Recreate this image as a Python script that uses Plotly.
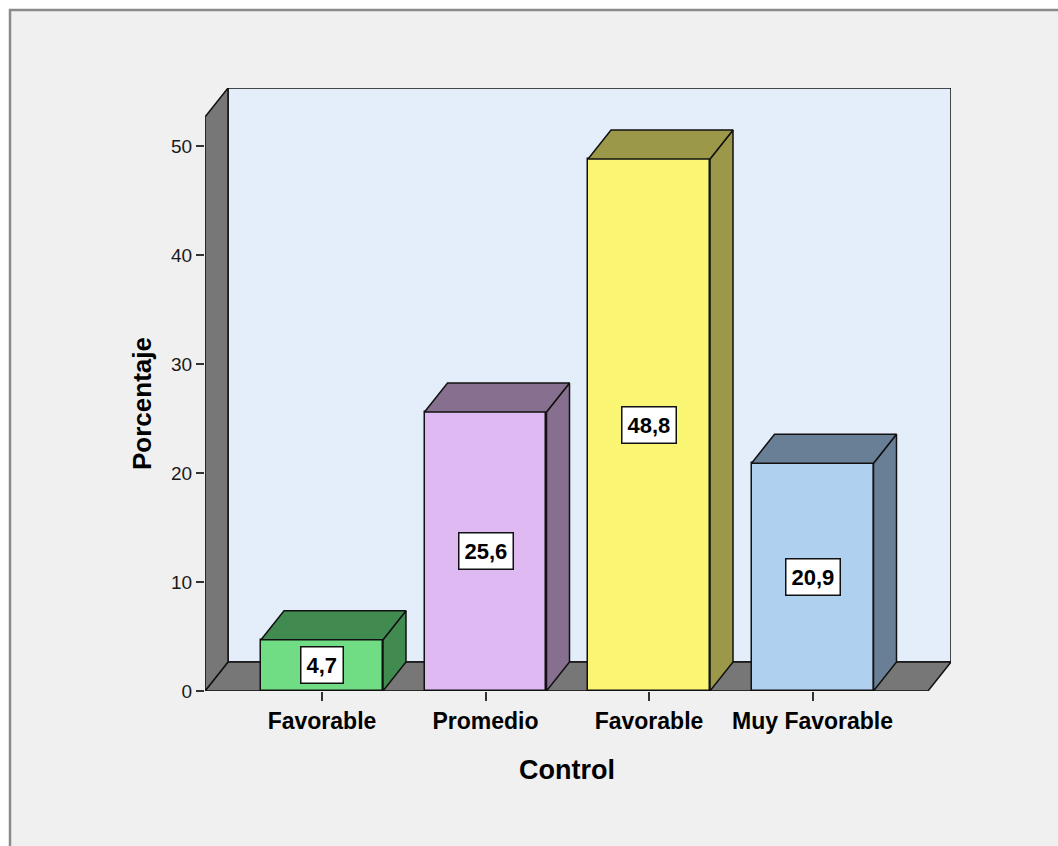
import plotly.graph_objects as go

# ---- data ----
categories = ["Favorable", "Promedio", "Favorable", "Muy Favorable"]
values = [4.7, 25.6, 48.8, 20.9]
value_labels = ["4,7", "25,6", "48,8", "20,9"]
y_ticks = [0, 10, 20, 30, 40, 50]
x_title = "Control"
y_title = "Porcentaje"

# ---- styles ----
front_colors = ["#70dc84", "#dfb9f1", "#faf673", "#afd0ee"]
shade_colors = ["#418b50", "#87708f", "#9b984a", "#687f95"]
WALL_BACK = "#e3eefa"
WALL_GRAY = "#777777"
BG = "#f0f0f0"

W, H = 1058, 846
ML, MR, MT, MB = 205, 107, 88, 155
X0, X1 = -0.7156, 3.847          # x-axis range (category units)
Y0, Y1 = 0.0, 55.32               # y-axis range
DX, DY = 0.1407, 2.66             # 3D depth offset in data units
BW = 0.746                        # bar width

SANS = "Liberation Sans, Arial, sans-serif"

xpos = list(range(len(categories)))

fig = go.Figure()

# front faces of the bars
fig.add_trace(go.Bar(
    x=xpos, y=values, width=BW,
    marker=dict(color=front_colors, line=dict(color="#111111", width=1.5)),
    hoverinfo="skip", showlegend=False,
))

# 3D top and side faces computed from the values
for i, v in enumerate(values):
    l, r = i - BW / 2, i + BW / 2
    # side
    fig.add_trace(go.Scatter(
        x=[r, r, r + DX, r + DX, r], y=[0, v, v + DY, DY, 0],
        mode="lines", fill="toself", fillcolor=shade_colors[i],
        line=dict(color="#111111", width=1.5), hoverinfo="skip", showlegend=False,
    ))
    # top
    fig.add_trace(go.Scatter(
        x=[l, r, r + DX, l + DX, l], y=[v, v, v + DY, v + DY, v],
        mode="lines", fill="toself", fillcolor=shade_colors[i],
        line=dict(color="#111111", width=1.5), hoverinfo="skip", showlegend=False,
    ))

# ---- frame / walls ----
def px_to_paper_x(px):
    return (px - ML) / (W - ML - MR)

def px_to_paper_y(py):
    return (H - MB - py) / (H - MT - MB)

xL, xR = X0, X1 - DX
shapes = [
    # outer panel
    dict(type="rect", xref="paper", yref="paper",
         x0=px_to_paper_x(10), x1=px_to_paper_x(1075),
         y0=px_to_paper_y(865), y1=px_to_paper_y(10),
         fillcolor=BG, line=dict(color="#8a8a8a", width=2.5), layer="below"),
    # back wall
    dict(type="rect", xref="x", yref="y", x0=xL + DX, x1=X1, y0=DY, y1=Y1,
         fillcolor=WALL_BACK, line=dict(color="#111111", width=1.5), layer="below"),
    # floor
    dict(type="path", xref="x", yref="y",
         path=f"M {xL},{0} L {xR},{0} L {X1},{DY} L {xL + DX},{DY} Z",
         fillcolor=WALL_GRAY, line=dict(color="#111111", width=1.5), layer="below"),
    # left wall
    dict(type="path", xref="x", yref="y",
         path=f"M {xL},{0} L {xL},{Y1 - DY} L {xL + DX},{Y1} L {xL + DX},{DY} Z",
         fillcolor=WALL_GRAY, line=dict(color="#111111", width=1.5), layer="below"),
]

annotations = []
for i, (v, t) in enumerate(zip(values, value_labels)):
    annotations.append(dict(
        x=i, y=v / 2, xref="x", yref="y", text=f"<b>{t}</b>", showarrow=False,
        xanchor="center", yanchor="middle",
        font=dict(family=SANS, size=22, color="#000000"),
        bgcolor="#ffffff", bordercolor="#111111", borderwidth=1.5, borderpad=5,
    ))

annotations.append(dict(
    x=(xL + xR) / 2, y=px_to_paper_y(770), xref="x", yref="paper",
    text=f"<b>{x_title}</b>", showarrow=False, xanchor="center", yanchor="middle",
    font=dict(family=SANS, size=27, color="#000000"),
))
annotations.append(dict(
    x=px_to_paper_x(142), y=(Y1 - DY) / 2, xref="paper", yref="y",
    text=f"<b>{y_title}</b>", showarrow=False, textangle=-90,
    xanchor="center", yanchor="middle",
    font=dict(family=SANS, size=26, color="#000000"),
))

fig.update_layout(
    width=W, height=H,
    margin=dict(l=ML, r=MR, t=MT, b=MB),
    paper_bgcolor="#ffffff", plot_bgcolor="rgba(0,0,0,0)",
    shapes=shapes, annotations=annotations,
    showlegend=False, bargap=0,
    xaxis=dict(
        range=[X0, X1], tickmode="array", tickvals=xpos,
        ticktext=[f"<b>{c}</b>" for c in categories],
        ticks="outside", ticklen=9, tickwidth=2, tickcolor="#333333",
        tickfont=dict(family=SANS, size=23, color="#000000"),
        showgrid=False, zeroline=False, showline=False, fixedrange=True,
    ),
    yaxis=dict(
        range=[Y0, Y1], tickmode="array", tickvals=y_ticks,
        ticktext=[str(t) for t in y_ticks],
        ticks="outside", ticklen=8, tickwidth=1.5, tickcolor="#333333",
        tickfont=dict(family=SANS, size=19, color="#1a1a1a"),
        showgrid=False, zeroline=False, showline=False, fixedrange=True,
    ),
)

fig.write_html("out.html")
